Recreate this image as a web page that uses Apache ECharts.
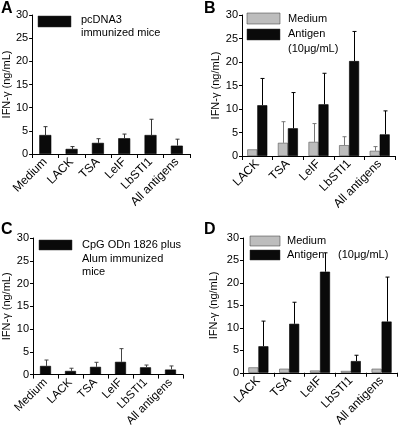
<!DOCTYPE html>
<html><head><meta charset="utf-8">
<script src="https://cdn.jsdelivr.net/npm/echarts@6/dist/echarts.min.js"></script>
<style>html,body{margin:0;padding:0;background:#fff}#c{width:400px;height:429px}</style>
</head><body><div id="c"></div>
<script>
var catsA = ['Medium','LACK','TSA','LeIF','LbSTI1','All antigens'];
var aMean = [4.1, 1.1, 2.4, 3.4, 4.1, 1.8];
var aErr  = [1.8, 0.5, 0.9, 0.9, 3.4, 1.4];

var catsB = ['LACK','TSA','LeIF','LbSTI1','All antigens'];
var bMedium    = [1.4, 2.8, 3.0, 2.3, 1.1];
var bMediumErr = [0, 4.5, 3.9, 1.8, 0.9];
var bAntigen    = [10.8, 5.9, 11.0, 20.2, 4.6];
var bAntigenErr = [5.7, 7.6, 6.6, 6.3, 5.0];

var catsC = ['Medium','LACK','TSA','LeIF','LbSTI1','All antigens'];
var cMean = [1.9, 0.8, 1.7, 2.8, 1.6, 1.1];
var cErr  = [1.3, 0.6, 1.0, 2.9, 0.5, 0.8];

var catsD = ['LACK','TSA','LeIF','LbSTI1','All antigens'];
var dMedium    = [1.2, 0.9, 0.5, 0.4, 0.9];
var dMediumErr = [0, 0, 0, 0, 0];
var dAntigen    = [5.9, 10.9, 22.5, 2.6, 11.4];
var dAntigenErr = [5.6, 4.8, 4.2, 1.3, 9.9];

var yTicks = {min: 0, max: 30, interval: 5};
var yName = 'IFN-\u03b3 (ng/mL)';

var FONT = "'Liberation Sans', Arial, Helvetica, sans-serif";
var BLACK = '#0a0a0a', GREY = '#bdbdbd';

function xAx(idx, cats, fs){
  return {gridIndex: idx, type: 'category', data: cats,
    axisLine: {lineStyle: {color: '#000', width: 1}},
    axisTick: {show: true, length: 4, lineStyle: {color: '#000'}},
    axisLabel: {rotate: 45, fontSize: fs, color: '#000', fontFamily: FONT, margin: 6, interval: 0}};
}
function yAx(idx, gap){
  return {gridIndex: idx, type: 'value', min: yTicks.min, max: yTicks.max, interval: yTicks.interval,
    name: yName, nameLocation: 'middle', nameGap: gap, nameRotate: 90,
    nameTextStyle: {fontSize: 11, color: '#000', fontFamily: FONT},
    axisLine: {show: true, lineStyle: {color: '#000', width: 1}},
    axisTick: {show: true, length: 3, lineStyle: {color: '#000'}},
    splitLine: {show: false},
    axisLabel: {fontSize: 11, color: '#000', fontFamily: FONT, margin: 4}};
}
function errRender(offset, color){
  return function(params, api){
    var e = api.value(2);
    if (!e) return;
    var x = api.value(0), m = api.value(1);
    var p0 = api.coord([x, m]), p1 = api.coord([x, m + e]);
    var cx = Math.round(p0[0] + offset) + 0.5;
    return {type: 'group', children: [
      {type: 'line', shape: {x1: cx, y1: p0[1], x2: cx, y2: p1[1]}, style: {stroke: color, lineWidth: 1}},
      {type: 'line', shape: {x1: cx - 2, y1: p1[1], x2: cx + 2, y2: p1[1]}, style: {stroke: color, lineWidth: 1}}
    ]};
  };
}
function errSeries(idx, cats, mean, err, offset, color){
  return {type: 'custom', xAxisIndex: idx, yAxisIndex: idx, z: 5,
    renderItem: errRender(offset, color),
    data: cats.map(function(c, i){ return [i, mean[i], err[i]]; })};
}
function bar(idx, vals, color, width, border){
  return {type: 'bar', xAxisIndex: idx, yAxisIndex: idx, data: vals, barWidth: width, barGap: '0%',
    itemStyle: {color: color, borderColor: border, borderWidth: 0.6}, silent: true};
}

function txt(x, y, s, size, bold){
  return {type: 'text', left: x, top: y, style: {text: s, fontSize: size, fontFamily: FONT,
    fontWeight: bold ? 'bold' : 'normal', fill: '#000'}};
}
function rect(x, y, w, h, color){
  return {type: 'rect', shape: {x: x, y: y, width: w, height: h}, style: {fill: color, stroke: '#333', lineWidth: 0.5}};
}

var chart = echarts.init(document.getElementById('c'), null, {renderer: 'canvas'});
chart.setOption({
  animation: false,
  grid: [
    {left: 32, top: 15, width: 158, height: 139},
    {left: 242, top: 15, width: 153, height: 141},
    {left: 33, top: 238, width: 150, height: 140},
    {left: 243, top: 238, width: 154, height: 136}
  ],
  xAxis: [xAx(0, catsA, 12), xAx(1, catsB, 12), xAx(2, catsC, 11.5), xAx(3, catsD, 12)],
  yAxis: [yAx(0, 18), yAx(1, 21), yAx(2, 20), yAx(3, 24)],
  series: [
    bar(0, aMean, BLACK, 12, '#000'),
    errSeries(0, catsA, aMean, aErr, 0, '#333'),
    bar(1, bMedium, GREY, 10, '#555'),
    bar(1, bAntigen, BLACK, 10, '#000'),
    errSeries(1, catsB, bMedium, bMediumErr, -5, '#777'),
    errSeries(1, catsB, bAntigen, bAntigenErr, 5, '#000'),
    bar(2, cMean, BLACK, 11, '#000'),
    errSeries(2, catsC, cMean, cErr, 0, '#444'),
    bar(3, dMedium, GREY, 10, '#555'),
    bar(3, dAntigen, BLACK, 10, '#000'),
    errSeries(3, catsD, dMedium, dMediumErr, -5, '#777'),
    errSeries(3, catsD, dAntigen, dAntigenErr, 5, '#000')
  ],
  graphic: [
    txt(1, 1, 'A', 16, true),
    txt(204, 1, 'B', 16, true),
    txt(1, 222, 'C', 16, true),
    txt(204, 222, 'D', 16, true),
    rect(38, 16, 33, 11, BLACK),
    txt(81, 14, 'pcDNA3', 11),
    txt(81, 27, 'immunized mice', 11),
    rect(247, 13, 33, 11, GREY),
    rect(247, 29, 33, 11, BLACK),
    txt(288, 13, 'Medium', 11),
    txt(288, 28, 'Antigen', 11),
    txt(288, 43, '(10\u03bcg/mL)', 11),
    rect(39, 240, 33, 10, BLACK),
    txt(82, 239, 'CpG ODn 1826 plus', 11),
    txt(82, 253, 'Alum immunized', 11),
    txt(82, 266, 'mice', 11),
    rect(250, 236, 30, 10, GREY),
    rect(250, 250, 30, 10, BLACK),
    txt(287, 235, 'Medium', 11),
    txt(287, 249, 'Antigen', 11),
    txt(338, 249, '(10\u03bcg/mL)', 11)
  ]
});
</script></body></html>
